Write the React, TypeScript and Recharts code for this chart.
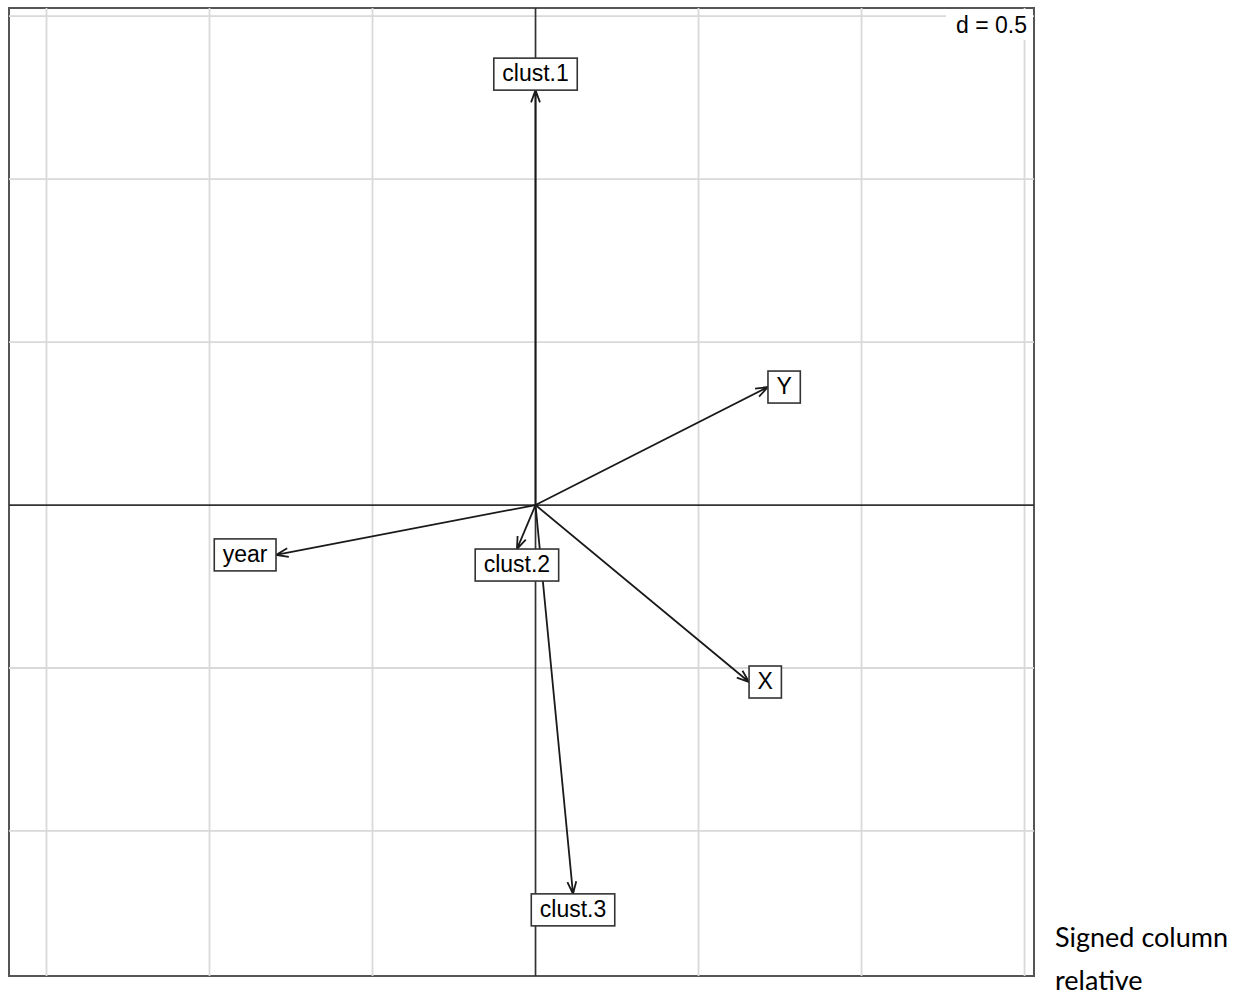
import { ScatterChart, XAxis, YAxis, ReferenceLine, ReferenceDot, ReferenceArea } from "recharts";

// variable names and their coordinates on the two axes
const varNames = ["clust.1", "Y", "year", "clust.2", "X", "clust.3"];
const axis1 = [0.0, 0.713, -0.796, -0.057, 0.655, 0.115];
const axis2 = [1.273, 0.362, -0.153, -0.135, -0.543, -1.193];

const gridTicks = [-1.5, -1, -0.5, 0.5, 1, 1.5];
const gridLabel = "d = 0.5";
const sideText = ["Signed column", "relative"];

const X_DOMAIN = [-1.615, 1.529];
const Y_DOMAIN = [-1.445, 1.525];

const FONT = "'Liberation Sans', Arial, Helvetica, sans-serif";
const FS = 23;

let ctx: CanvasRenderingContext2D | null = null;
const textWidth = (t: string) => {
  if (!ctx) ctx = document.createElement("canvas").getContext("2d");
  if (!ctx) return t.length * FS * 0.5;
  ctx.font = `${FS}px ${FONT}`;
  return ctx.measureText(t).width;
};

const arrows = varNames.map((name, i) => ({ name, x: axis1[i], y: axis2[i] }));

const ArrowShape = (props: any) => {
  const { x1, y1, x2, y2 } = props;
  const a = Math.atan2(y2 - y1, x2 - x1);
  const len = 13;
  const h = (20 * Math.PI) / 180;
  const ax = x2 - len * Math.cos(a - h);
  const ay = y2 - len * Math.sin(a - h);
  const bx = x2 - len * Math.cos(a + h);
  const by = y2 - len * Math.sin(a + h);
  return (
    <path
      d={`M${x1},${y1}L${x2},${y2}M${ax},${ay}L${x2},${y2}L${bx},${by}`}
      stroke="#1a1a1a"
      strokeWidth={1.8}
      fill="none"
    />
  );
};

const LabelBox = ({ cx, cy, text, dx, dy }: any) => {
  const w = textWidth(text) + 17;
  const h = 32;
  let left, top;
  if (Math.abs(dx) >= Math.abs(dy)) {
    left = dx > 0 ? cx : cx - w;
    top = cy - h / 2;
  } else {
    left = cx - w / 2;
    top = dy > 0 ? cy - h : cy;
  }
  return (
    <g>
      <rect x={left} y={top} width={w} height={h} fill="#fff" stroke="#333" strokeWidth={1.6} />
      <text
        x={left + w / 2}
        y={top + h / 2 - 1}
        textAnchor="middle"
        dominantBaseline="central"
        fontFamily={FONT}
        fontSize={FS}
        fill="#000"
      >
        {text}
      </text>
    </g>
  );
};

const CornerLabel = ({ cx, cy }: any) => (
  <g>
    <rect x={cx - 88} y={cy + 1} width={87} height={31} fill="#fff" />
    <text x={cx - 7} y={cy + 25} textAnchor="end" fontFamily={FONT} fontSize={FS} fill="#000">
      {gridLabel}
    </text>
  </g>
);

export default function App() {
  return (
    <div style={{ position: "absolute", left: 0, top: 0, width: 1240, height: 999, background: "#fff" }}>
      <ScatterChart width={1240} height={999} margin={{ left: 9, top: 8, right: 206, bottom: 23 }}>
        <XAxis type="number" dataKey="x" domain={X_DOMAIN} hide allowDataOverflow />
        <YAxis type="number" dataKey="y" domain={Y_DOMAIN} hide allowDataOverflow />

        {/* grid */}
        {gridTicks.map((t) => (
          <ReferenceLine key={"gx" + t} x={t} stroke="#d9d9d9" strokeWidth={1.8} />
        ))}
        {gridTicks.map((t) => (
          <ReferenceLine key={"gy" + t} y={t} stroke="#d9d9d9" strokeWidth={1.8} />
        ))}

        <ReferenceDot x={X_DOMAIN[1]} y={Y_DOMAIN[1]} r={0} shape={(p: any) => <CornerLabel {...p} />} />

        {/* axes through origin */}
        <ReferenceLine x={0} stroke="#333" strokeWidth={1.7} />
        <ReferenceLine y={0} stroke="#333" strokeWidth={1.7} />

        {/* frame */}
        <ReferenceArea
          x1={X_DOMAIN[0]}
          x2={X_DOMAIN[1]}
          y1={Y_DOMAIN[0]}
          y2={Y_DOMAIN[1]}
          fill="none"
          fillOpacity={0}
          stroke="#555"
          strokeWidth={2}
        />

        {arrows.map((a) => (
          <ReferenceLine
            key={"ar" + a.name}
            segment={[{ x: 0, y: 0 }, { x: a.x, y: a.y }]}
            shape={(p: any) => <ArrowShape {...p} />}
          />
        ))}

        {arrows.map((a) => (
          <ReferenceDot
            key={"lb" + a.name}
            x={a.x}
            y={a.y}
            r={0}
            shape={(p: any) => <LabelBox {...p} text={a.name} dx={a.x} dy={a.y} />}
          />
        ))}
      </ScatterChart>

      <svg width={1240} height={999} style={{ position: "absolute", left: 0, top: 0, pointerEvents: "none" }}>
        {sideText.map((t, i) => (
          <text key={t} x={1055} y={947 + i * 43} fontFamily="Lato, 'Open Sans', sans-serif" fontSize={27} fill="#000">
            {t}
          </text>
        ))}
      </svg>
    </div>
  );
}
